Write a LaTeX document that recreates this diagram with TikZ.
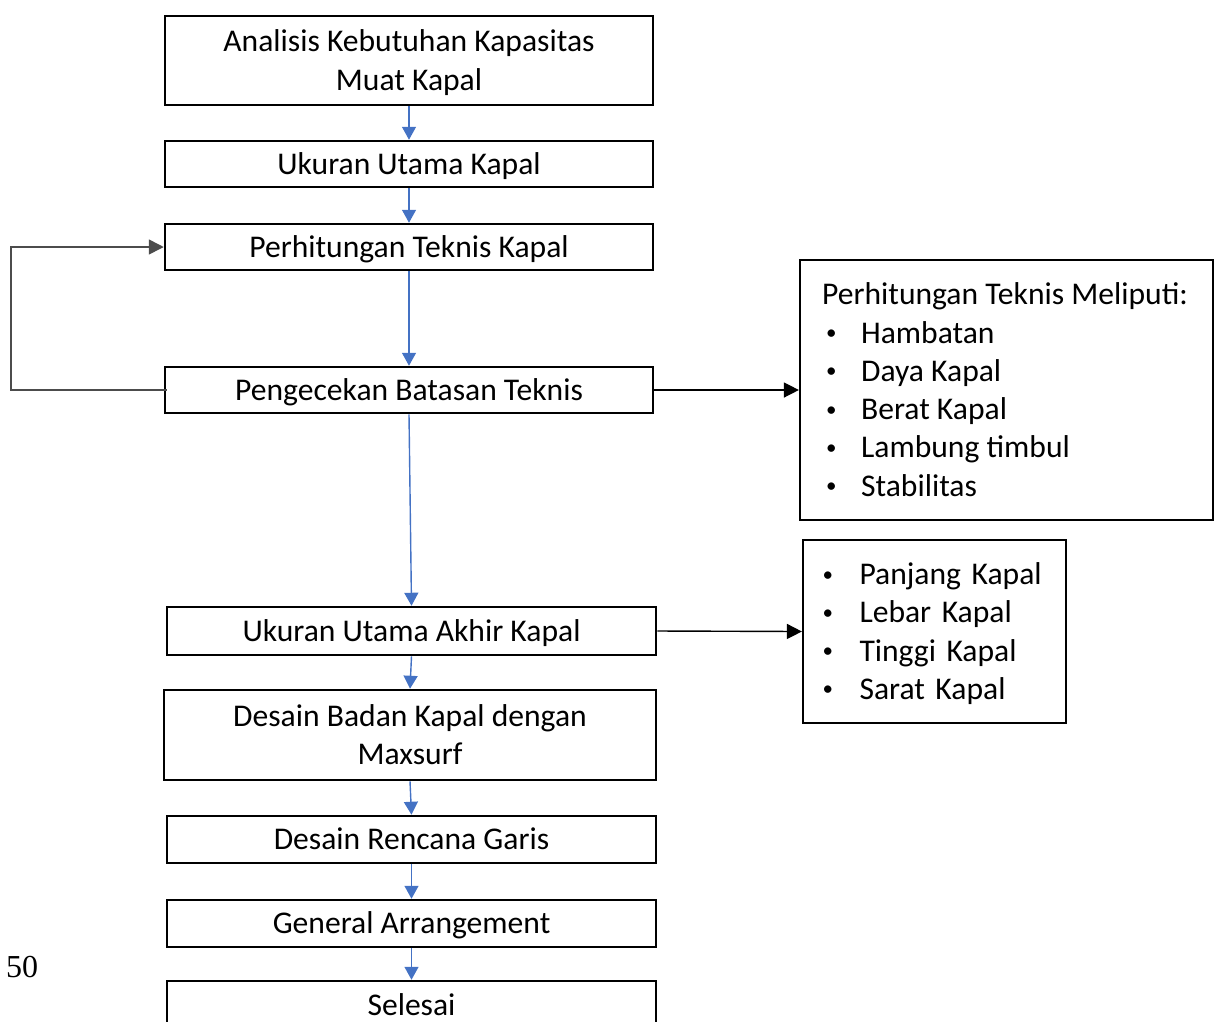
\documentclass[tikz,border=0pt]{standalone}
\usepackage{fontspec}
\setmainfont{Carlito}
\newfontfamily\pagenumfont{Liberation Serif}
\usetikzlibrary{arrows.meta}
\definecolor{flowblue}{RGB}{68,114,196}
% uniform line height so every label sits on the same baseline grid
\newcommand{\boxstrut}{\rule[-7.9pt]{0pt}{36.7pt}}
\tikzset{
  stepbox/.style={draw=black, line width=2.5pt, inner sep=0pt, align=center,
    font=\fontsize{31.6}{38.3}\selectfont,
    execute at begin node=\boxstrut, execute at end node=\boxstrut},
  listbox/.style={draw=black, line width=2.2pt, inner sep=0pt, align=left,
    font=\fontsize{31.6}{38.3}\selectfont,
    execute at begin node=\boxstrut, execute at end node=\boxstrut},
  flow/.style={draw=flowblue, line width=1.4pt, -{Triangle[width=14pt,length=13pt]}},
  link/.style={draw=black, line width=1.4pt, -{Triangle[width=15pt,length=15pt]}},
  loopline/.style={draw=black!70, line width=1.6pt, -{Triangle[width=15pt,length=15pt]}}
}
\newcommand{\bul}[1]{\makebox[#1pt][l]{\hspace{1pt}\raisebox{3.5pt}{\fontsize{21}{21}\selectfont•}}}
\begin{document}
\begin{tikzpicture}[x=1pt,y=-1pt]
  \useasboundingbox (0,0) rectangle (1214,1021);
  \clip (0,0) rectangle (1214,1021);

  % main flow
  \node[stepbox, minimum width=488pt, minimum height=89pt] (b1) at (409,60.5)
    {\boxstrut Analisis Kebutuhan Kapasitas\\Muat Kapal};
  \node[stepbox, minimum width=488pt, minimum height=46pt] (b2) at (409,164)
    {Ukuran Utama Kapal};
  \node[stepbox, minimum width=488pt, minimum height=46pt] (b3) at (409,247)
    {Perhitungan Teknis Kapal};
  \node[stepbox, minimum width=488pt, minimum height=46pt] (b4) at (409,390)
    {Pengecekan Batasan Teknis};
  \node[stepbox, minimum width=489pt, minimum height=48pt] (b5) at (411.5,631)
    {Ukuran Utama Akhir Kapal};
  \node[stepbox, minimum width=492pt, minimum height=90pt] (b6) at (410,735)
    {\boxstrut Desain Badan Kapal dengan\\Maxsurf};
  \node[stepbox, minimum width=489pt, minimum height=47pt] (b7) at (411.5,839.5)
    {Desain Rencana Garis};
  \node[stepbox, minimum width=489pt, minimum height=47pt] (b8) at (411.5,923.5)
    {General Arrangement};
  \node[stepbox, minimum width=489pt, minimum height=48pt] (b9) at (411.5,1005)
    {Selesai};

  % side lists
  \node[listbox, minimum width=413pt, minimum height=260pt] (ra) at (1006.5,390)
    {\hspace*{-3pt}\boxstrut Perhitungan Teknis Meliputi:\\
     \bul{36}Hambatan\\
     \bul{36}Daya Kapal\\
     \bul{36}Berat Kapal\\
     \bul{36}Lambung timbul\\
     \bul{36}Stabilitas};
  \node[listbox, minimum width=263pt, minimum height=183pt, text width=226pt] (rb) at (934.5,631.5)
    {\bul{38}Panjang Kapal\\
     \bul{38}Lebar Kapal\\
     \bul{38}Tinggi Kapal\\
     \bul{38}Sarat Kapal};

  % page number
  \node[font=\pagenumfont\fontsize{32}{36}\selectfont, inner sep=0pt] (pg) at (22,967) {50};

  % connectors
  \draw[flow] (b1.south) -- (b2.north);
  \draw[flow] (b2.south) -- (b3.north);
  \draw[flow] (b3.south) -- (b4.north);
  \draw[flow] (b4.south) -- (b5.north);
  \draw[flow] (b5.south) -- (b6.north);
  \draw[flow] (b6.south) -- (b7.north);
  \draw[flow] (b7.south) -- (b8.north);
  \draw[flow] (b8.south) -- (b9.north);

  \coordinate (loopcorner) at (11,390);
  \draw[loopline] ([xshift=3pt]b4.west) -- (loopcorner) |- (b3.west);

  \draw[link] (b4.east) -- (ra.west);
  \draw[link] (b5.east) -- (rb.west);
\end{tikzpicture}
\end{document}
